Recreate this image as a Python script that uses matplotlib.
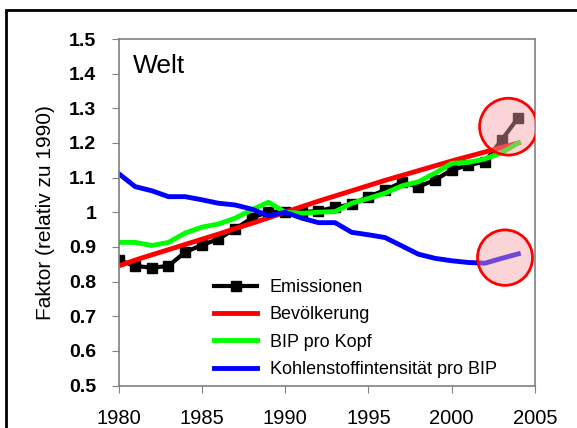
import matplotlib.pyplot as plt
from matplotlib.patches import Ellipse, Rectangle

plt.rcParams['font.family'] = ['Liberation Sans', 'DejaVu Sans']

years = list(range(1980, 2005))
emissionen = [0.862, 0.845, 0.84, 0.845, 0.885, 0.905, 0.923, 0.952, 0.983, 1.002,
              1.0, 1.0, 1.004, 1.014, 1.023, 1.045, 1.064, 1.086, 1.074, 1.093,
              1.122, 1.136, 1.146, 1.209, 1.273]
bevoelkerung = [0.845, 0.862, 0.877, 0.892, 0.907, 0.922, 0.937, 0.953, 0.968, 0.984,
                1.0, 1.016, 1.032, 1.047, 1.062, 1.077, 1.092, 1.106, 1.12, 1.134,
                1.148, 1.161, 1.174, 1.187, 1.2]
bip_kopf = [0.913, 0.913, 0.904, 0.913, 0.94, 0.957, 0.966, 0.983, 1.007, 1.029,
            1.0, 0.997, 1.0, 1.002, 1.026, 1.04, 1.055, 1.076, 1.088, 1.113,
            1.141, 1.144, 1.154, 1.172, 1.2]
kohlenstoff = [1.112, 1.074, 1.062, 1.045, 1.045, 1.036, 1.026, 1.021, 1.009, 0.99,
               1.0, 0.983, 0.97, 0.97, 0.942, 0.935, 0.927, 0.903, 0.879, 0.867,
               0.86, 0.855, 0.853, 0.867, 0.88]

fig = plt.figure(figsize=(5.77, 4.28), dpi=100)
ax = fig.add_axes([118.5 / 577, 1 - 385.5 / 428, (535 - 118.5) / 577, (385.5 - 39) / 428])

ax.plot(years, emissionen, color='black', lw=3, marker='s', markersize=7, label='Emissionen')
ax.plot(years, bevoelkerung, color='#ff0000', lw=3.5, label='Bevölkerung')
ax.plot(years, bip_kopf, color='#00ff00', lw=3.5, label='BIP pro Kopf')
ax.plot(years, kohlenstoff, color='#0000ff', lw=3.5, label='Kohlenstoffintensität pro BIP')

# highlight circles
for cx, cy, w, h in [(2003.4, 1.247, 3.45, 0.164), (2003.2, 0.869, 3.3, 0.16)]:
    ax.add_patch(Ellipse((cx, cy), w, h, facecolor='#f4a0a8', alpha=0.45, edgecolor='none', zorder=5))
    ax.add_patch(Ellipse((cx, cy), w, h, facecolor='none', edgecolor='#ff0000', lw=2, zorder=6))

ax.set_xlim(1980, 2005)
ax.set_ylim(0.5, 1.5)
ax.set_xticks(range(1980, 2006, 5))
ax.set_yticks([0.5, 0.6, 0.7, 0.8, 0.9, 1.0, 1.1, 1.2, 1.3, 1.4, 1.5])
ax.set_yticklabels(['0.5', '0.6', '0.7', '0.8', '0.9', '1', '1.1', '1.2', '1.3', '1.4', '1.5'],
                   fontweight='bold')
ax.tick_params(axis='y', labelsize=14, length=5, color='#808080', pad=11)
ax.tick_params(axis='x', labelsize=14.5, length=5, color='#808080', pad=12)
for s in ax.spines.values():
    s.set_color('#808080')
    s.set_linewidth(1.2)

ax.set_ylabel('Faktor (relativ zu 1990)', fontsize=15, labelpad=10)
ax.text(0.035, 0.922, 'Welt', transform=ax.transAxes, fontsize=19, va='center')

ax.legend(loc='lower left', bbox_to_anchor=(0.19, -0.026), frameon=False, fontsize=13,
          handlelength=2.4, handletextpad=0.7, labelspacing=0.58)

fig.add_artist(Rectangle((6 / 577, -0.1), 1.2, 1 - 10 / 428 + 0.1, transform=fig.transFigure,
                         fill=False, edgecolor='black', lw=2))

fig.savefig('out.png', dpi=100)
